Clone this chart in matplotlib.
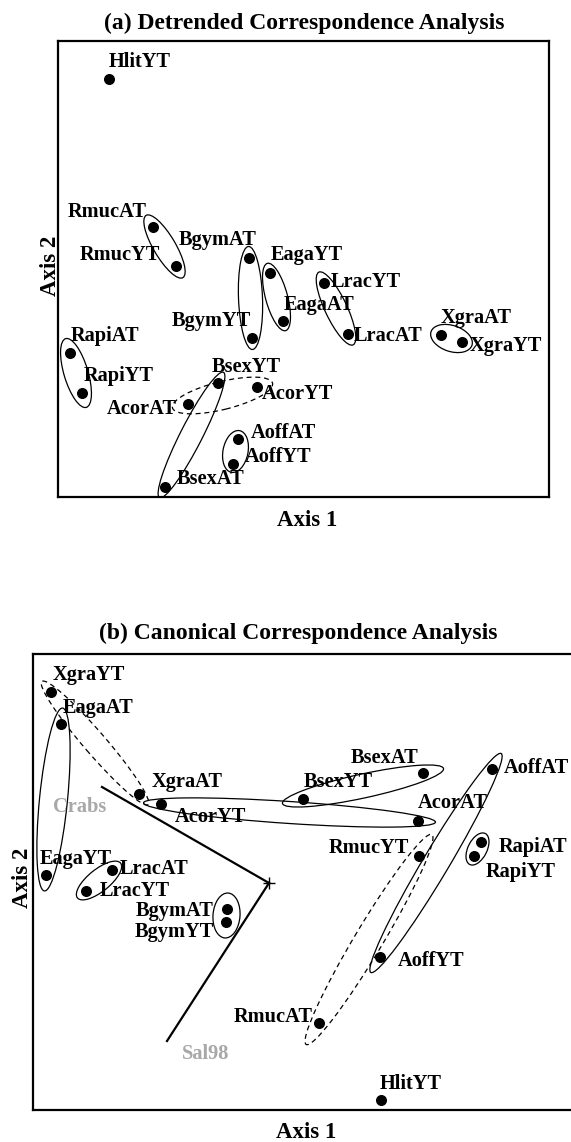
import numpy as np
import matplotlib.pyplot as plt
from matplotlib.patches import Ellipse

plt.rcParams['font.family'] = ['Liberation Serif', 'DejaVu Serif']
plt.rcParams['font.weight'] = 'bold'

# (a) DCA sample scores
dca_names = ["HlitYT", "RmucAT", "RmucYT", "BgymAT", "EagaYT", "LracYT", "EagaAT",
             "BgymYT", "LracAT", "XgraAT", "XgraYT", "RapiAT", "RapiYT", "BsexYT",
             "AcorYT", "AcorAT", "AoffAT", "AoffYT", "BsexAT"]
dca_x = [0.51, 0.95, 1.18, 1.91, 2.12, 2.66, 2.25, 1.94, 2.90, 3.83, 4.04,
         0.12, 0.24, 1.60, 1.99, 1.30, 1.80, 1.75, 1.07]
dca_y = [4.18, 2.70, 2.31, 2.39, 2.24, 2.14, 1.76, 1.59, 1.63, 1.62, 1.55,
         1.44, 1.04, 1.14, 1.10, 0.93, 0.58, 0.33, 0.10]
dca_groups = [("RmucAT", "RmucYT", False), ("BgymAT", "BgymYT", False),
              ("EagaYT", "EagaAT", False), ("LracYT", "LracAT", False),
              ("XgraAT", "XgraYT", False), ("RapiAT", "RapiYT", False),
              ("BsexYT", "BsexAT", False), ("AcorAT", "AcorYT", True),
              ("AoffAT", "AoffYT", False)]

# (b) CCA sample scores and environmental vectors
cca_names = ["XgraYT", "EagaAT", "XgraAT", "AcorYT", "BsexYT", "BsexAT", "AoffAT",
             "AcorAT", "RmucYT", "RapiAT", "RapiYT", "EagaYT", "LracAT", "LracYT",
             "BgymAT", "BgymYT", "AoffYT", "RmucAT", "HlitYT"]
cca_x = [-2.18, -2.08, -1.30, -1.08, 0.34, 1.54, 2.23, 1.49, 1.50, 2.12, 2.05,
         -2.23, -1.57, -1.83, -0.42, -0.43, 1.11, 0.50, 1.12]
cca_y = [1.91, 1.59, 0.89, 0.79, 0.84, 1.10, 1.14, 0.62, 0.27, 0.41, 0.27,
         0.08, 0.13, -0.08, -0.26, -0.39, -0.74, -1.40, -2.17]
cca_groups = [("XgraYT", "XgraAT", True), ("EagaAT", "EagaYT", False),
              ("LracAT", "LracYT", False), ("BgymAT", "BgymYT", False),
              ("AcorYT", "AcorAT", False), ("BsexYT", "BsexAT", False),
              ("AoffAT", "AoffYT", False), ("RmucYT", "RmucAT", True),
              ("RapiAT", "RapiYT", False)]
env_names = ["Crabs", "Sal98"]
env_x = [-1.67, -1.02]
env_y = [0.96, -1.58]

# layout: label offsets in pixels (dx, dy, ha), ellipse padding/width
dca_lab = {"HlitYT": (0, 17, "left"), "RmucAT": (-6, 15, "right"),
           "RmucYT": (-16, 11, "right"), "BgymAT": (8, 18, "right"),
           "EagaYT": (1, 18, "left"), "LracYT": (7, 1, "left"),
           "EagaAT": (1, 16, "left"), "BgymYT": (-1, 17, "right"),
           "LracAT": (6, -2, "left"), "XgraAT": (0, 17, "left"),
           "XgraYT": (8, -4, "left"), "RapiAT": (1, 17, "left"),
           "RapiYT": (2, 17, "left"), "BsexYT": (-6, 16, "left"),
           "AcorYT": (5, -7, "left"), "AcorAT": (-11, -5, "right"),
           "AoffAT": (13, 6, "left"), "AoffYT": (12, 7, "left"),
           "BsexAT": (12, 8, "left")}
cca_lab = {"XgraYT": (2, 17, "left"), "EagaAT": (2, 16, "left"),
           "XgraAT": (13, 12, "left"), "AcorYT": (14, -13, "left"),
           "EagaYT": (-6, 16, "left"), "LracAT": (8, 1, "left"),
           "LracYT": (14, 0, "left"), "BgymAT": (-13, -2, "right"),
           "BgymYT": (-12, -10, "right"), "BsexAT": (-5, 15, "right"),
           "BsexYT": (1, 17, "left"), "AoffAT": (12, 1, "left"),
           "AcorAT": (0, 18, "left"), "RmucYT": (-10, 8, "right"),
           "RapiAT": (18, -5, "left"), "RapiYT": (12, -16, "left"),
           "AoffYT": (18, -4, "left"), "RmucAT": (-6, 6, "right"),
           "HlitYT": (-1, 16, "left")}
dca_env = [(0.27, 0.22), (0.23, 0.24), (0.20, 0.22), (0.24, 0.22), (0.21, 0.26),
           (0.30, 0.24), (0.24, 0.22), (0.32, 0.28), (0.17, 0.25)]
cca_env = [(0.28, 0.22), (0.32, 0.28), (0.22, 0.22), (0.32, 0.27), (0.35, 0.22),
           (0.42, 0.24), (0.36, 0.26), (0.50, 0.28), (0.19, 0.19)]
env_lab_x = [-1.89, -0.63]
env_lab_y = [0.76, -1.71]


def draw_panel(ax, names, xs, ys, groups, env, labs):
    pos = {n: (x, y) for n, x, y in zip(names, xs, ys)}
    ax.scatter(xs, ys, s=48, color="black", zorder=3)
    for n in names:
        dx, dy, ha = labs[n]
        ax.annotate(n, pos[n], xytext=(dx, dy), textcoords="offset pixels",
                    ha=ha, va="center", fontsize=14.7, fontweight="bold")
    for (a, b, dashed), (pad, w) in zip(groups, env):
        (x1, y1), (x2, y2) = pos[a], pos[b]
        d = np.hypot(x2 - x1, y2 - y1)
        ang = np.degrees(np.arctan2(y2 - y1, x2 - x1))
        e = Ellipse(((x1 + x2) / 2, (y1 + y2) / 2), d + pad, w, angle=ang,
                    fill=False, lw=0.9, ec="black",
                    ls=(0, (4, 3)) if dashed else "-")
        ax.add_patch(e)
    ax.set_xticks([])
    ax.set_yticks([])
    for s in ax.spines.values():
        s.set_linewidth(1.6)


fig = plt.figure(figsize=(5.71, 11.42), dpi=100)

ax1 = fig.add_axes([58 / 571, 1 - 497 / 1142, 491 / 571, 456 / 1142])
draw_panel(ax1, dca_names, dca_x, dca_y, dca_groups, dca_env, dca_lab)
ax1.set_xlim(0, 4.91)
ax1.set_ylim(0, 4.56)
fig.text(304 / 571, 1 - 23 / 1142, "(a) Detrended Correspondence Analysis",
         ha="center", va="center", fontsize=17, fontweight="bold")
fig.text(307 / 571, 1 - 521 / 1142, "Axis 1", ha="center", va="center",
         fontsize=16.5, fontweight="bold")
fig.text(50 / 571, 1 - 266 / 1142, "Axis 2", ha="center", va="center",
         rotation=90, fontsize=16.5, fontweight="bold")

ax2 = fig.add_axes([33 / 571, 32 / 1142, 545 / 571, 456 / 1142])
draw_panel(ax2, cca_names, cca_x, cca_y, cca_groups, cca_env, cca_lab)
ax2.set_xlim(-2.36, 3.09)
ax2.set_ylim(-2.27, 2.29)
for ex, ey in zip(env_x, env_y):
    ax2.plot([0, ex], [0, ey], color="black", lw=1.6, zorder=2)
ax2.plot([0], [0], marker="+", color="black", ms=8, mew=1)
for n, lx, ly in zip(env_names, env_lab_x, env_lab_y):
    ax2.text(lx, ly, n, ha="center", va="center", color="#a8a8a8",
             fontsize=14.7, fontweight="bold")
fig.text(298 / 571, 1 - 633 / 1142, "(b) Canonical Correspondence Analysis",
         ha="center", va="center", fontsize=17, fontweight="bold")
fig.text(306 / 571, 1 - 1133 / 1142, "Axis 1", ha="center", va="center",
         fontsize=16.5, fontweight="bold")
fig.text(23 / 571, 1 - 878 / 1142, "Axis 2", ha="center", va="center",
         rotation=90, fontsize=16.5, fontweight="bold")

fig.savefig("out.png", dpi=100)
